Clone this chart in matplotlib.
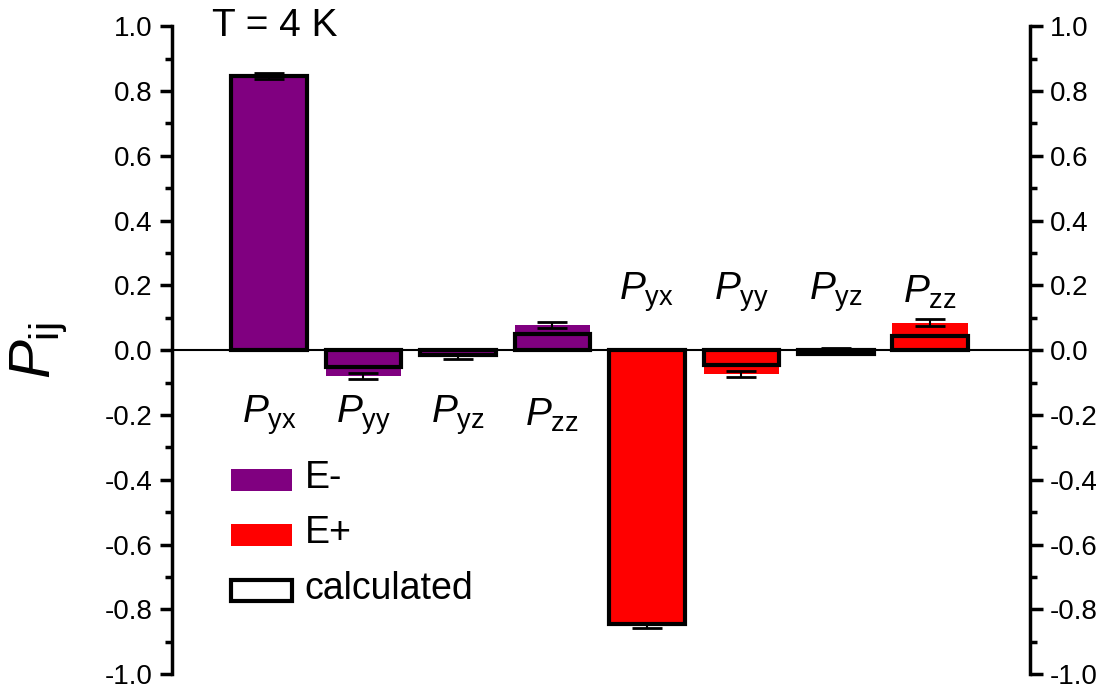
import numpy as np
import matplotlib.pyplot as plt
from matplotlib.patches import Rectangle
from matplotlib.ticker import MultipleLocator

plt.rcParams['font.family'] = ['Liberation Sans', 'DejaVu Sans']
plt.rcParams['mathtext.fontset'] = 'custom'
plt.rcParams['mathtext.rm'] = 'Liberation Sans'
plt.rcParams['mathtext.it'] = 'Liberation Sans:italic'

# 分量标签
components = ["yx", "yy", "yz", "zz"]

# E- 测量值 / 误差 / 计算值
em_meas = [0.846, -0.080, -0.020, 0.077]
em_err = [0.010, 0.010, 0.008, 0.010]
em_calc = [0.846, -0.052, -0.015, 0.050]

# E+ 测量值 / 误差 / 计算值
ep_meas = [-0.850, -0.074, 0.000, 0.085]
ep_err = [0.008, 0.010, 0.008, 0.010]
ep_calc = [-0.845, -0.046, -0.012, 0.045]

yticks = [-1.0, -0.8, -0.6, -0.4, -0.2, 0.0, 0.2, 0.4, 0.6, 0.8, 1.0]
ytick_labels = ["-1.0", "-0.8", "-0.6", "-0.4", "-0.2", "0.0",
                "0.2", "0.4", "0.6", "0.8", "1.0"]

purple = "#800080"
red = "#ff0000"

fig = plt.figure(figsize=(11.02, 6.88), dpi=100)
ax = fig.add_axes([0.156, 0.020, 0.779, 0.942])

x_em = np.arange(1, 5)
x_ep = np.arange(5, 9)
w = 0.8

ax.bar(x_em, em_meas, width=w, color=purple, edgecolor="none", zorder=2)
ax.bar(x_ep, ep_meas, width=w, color=red, edgecolor="none", zorder=2)
ax.bar(np.r_[x_em, x_ep], em_calc + ep_calc, width=w, fill=False,
       edgecolor="black", linewidth=3, zorder=3)
ax.errorbar(np.r_[x_em, x_ep], em_meas + ep_meas, yerr=em_err + ep_err,
            fmt="none", ecolor="black", elinewidth=1.5, capsize=11,
            capthick=2, zorder=4)

ax.axhline(0, color="black", linewidth=1.5, zorder=5)

# 分量标注
for x, c in zip(x_em, components):
    ax.text(x, -0.2, rf"$\mathit{{P}}_{{\mathrm{{{c}}}}}$", ha="center",
            va="center", fontsize=28)
for x, c in zip(x_ep, components):
    ax.text(x, 0.18, rf"$\mathit{{P}}_{{\mathrm{{{c}}}}}$", ha="center",
            va="center", fontsize=28)

ax.text(0.4, 1.0, "T = 4 K", ha="left", va="center", fontsize=28)

# 图例
ax.add_patch(Rectangle((0.6, -0.435), 0.64, 0.068, facecolor=purple,
                       edgecolor="none", clip_on=False))
ax.text(1.38, -0.395, "E-", ha="left", va="center", fontsize=27)
ax.add_patch(Rectangle((0.6, -0.605), 0.64, 0.068, facecolor=red,
                       edgecolor="none", clip_on=False))
ax.text(1.38, -0.565, "E+", ha="left", va="center", fontsize=27)
ax.add_patch(Rectangle((0.6, -0.775), 0.64, 0.065, facecolor="white",
                       edgecolor="black", linewidth=3))
ax.text(1.38, -0.737, "calculated", ha="left", va="center", fontsize=27)

ax.set_xlim(-0.027, 9.06)
ax.set_ylim(-1.0, 1.0)
ax.set_xticks([])
ax.set_yticks(yticks)
ax.set_yticklabels(ytick_labels)
ax.yaxis.set_minor_locator(MultipleLocator(0.1))
ax.tick_params(axis="y", which="both", direction="out", left=True,
               right=True, labelleft=True, labelright=True, width=2.5,
               labelsize=20, pad=5)
ax.tick_params(axis="y", which="major", length=9)
ax.tick_params(axis="y", which="minor", length=5)

for s in ["top", "bottom"]:
    ax.spines[s].set_visible(False)
for s in ["left", "right"]:
    ax.spines[s].set_linewidth(2.5)

fig.text(0.035, 0.49, r"$\mathit{P}_{\mathrm{ij}}$", rotation=90,
         ha="center", va="center", fontsize=42)

fig.savefig("out.png", dpi=100)
